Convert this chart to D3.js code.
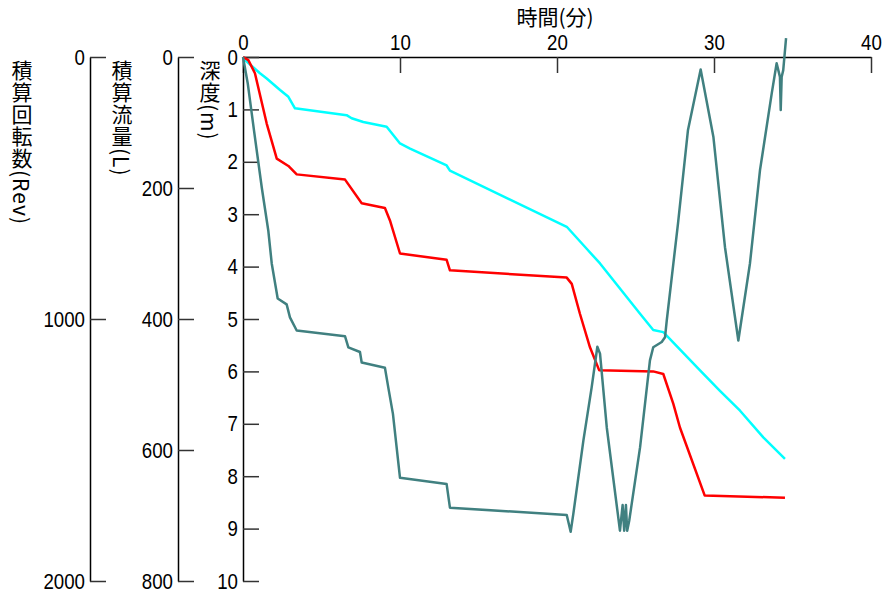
<!DOCTYPE html>
<html>
<head>
<meta charset="utf-8">
<script src="https://cdn.jsdelivr.net/npm/d3@7"></script>
<style>
  html, body { margin: 0; padding: 0; background: #fff; }
  svg { display: block; }
  .jp { font-family: "Noto Sans CJK JP", "Noto Sans", sans-serif; font-size: 21px; fill: #000; }
</style>
</head>
<body>
<script>
// ---- Data ----
// Depth (m) vs time (min) — teal
const depthTime = [0, 0.3, 0.7, 1.2, 1.61, 1.83, 2.21, 2.78, 2.99, 3.42, 6.5, 6.71, 7.45, 7.56, 9.04, 9.25, 9.55, 10.0, 12.97, 13.18, 20.62, 20.87, 21.04, 21.68, 22.21, 22.57, 22.74, 23.17, 24.01, 24.18, 24.28, 24.39, 24.47, 24.6, 25.29, 25.92, 26.13, 26.67, 26.88, 26.99, 27.71, 28.34, 29.15, 29.96, 30.7, 31.55, 32.29, 32.93, 33.68, 33.99, 34.2, 34.25, 34.31, 34.41, 34.59];
const depthValues = [0, 0.5, 1.4, 2.5, 3.31, 3.94, 4.61, 4.72, 4.97, 5.22, 5.33, 5.54, 5.63, 5.83, 5.93, 6.3, 6.81, 8.03, 8.15, 8.6, 8.74, 9.06, 8.72, 7.32, 6.3, 5.53, 5.66, 7.07, 9.04, 8.55, 9.04, 8.55, 9.04, 8.85, 7.45, 5.79, 5.54, 5.44, 5.35, 5.03, 3.17, 1.40, 0.24, 1.52, 3.63, 5.41, 3.94, 2.16, 0.69, 0.12, 0.38, 1.01, 0.38, 0.25, -0.36];

// Cumulative flow (L) vs time (min) — red
const flowTime = [0, 0.34, 0.76, 1.51, 2.15, 2.89, 3.42, 6.5, 7.56, 9.04, 9.36, 10.0, 12.97, 13.18, 20.62, 20.94, 21.46, 22.1, 22.69, 26.13, 26.77, 27.41, 27.83, 29.41, 34.52];
const flowValues = [0, 4.8, 24.8, 101.6, 155.2, 166.4, 179.2, 187.2, 223.2, 230.4, 249.6, 300, 309.6, 325.6, 336.8, 346.4, 392, 443.2, 478.4, 480, 484, 529.6, 565.6, 669.6, 672.8];

// Cumulative revolutions (Rev) vs time (min) — cyan
const revTime = [0, 0.13, 1.08, 1.51, 2.36, 2.89, 3.31, 6.6, 6.92, 7.66, 9.15, 10.0, 10.64, 12.97, 13.18, 20.62, 21.89, 22.74, 25.29, 26.13, 26.77, 29.11, 30.38, 31.66, 33.14, 34.52];
const revValues = [0, 12, 62, 82, 126, 152, 196, 222, 234, 248, 266, 330, 350, 414, 434, 648, 732, 788, 980, 1042, 1050, 1196, 1274, 1350, 1452, 1534];

// Tick values
const timeTicks = [0, 10, 20, 30, 40];
const depthTicks = [0, 1, 2, 3, 4, 5, 6, 7, 8, 9, 10];
const flowTicks = [0, 200, 400, 600, 800];
const revTicks = [0, 1000, 2000];

// Labels
const timeLabel = "時間(分)";
const depthLabel = "深度(m)";
const flowLabel = "積算流量(L)";
const revLabel = "積算回転数(Rev)";

// ---- Drawing ----
const W = 888, H = 594;
const svg = d3.select("body").append("svg").attr("width", W).attr("height", H);

const x = d3.scaleLinear().domain([0, 40]).range([243, 871]);
const yDepth = d3.scaleLinear().domain([0, 10]).range([57, 581]);
const yFlow = d3.scaleLinear().domain([0, 800]).range([57, 581]);
const yRev = d3.scaleLinear().domain([0, 2000]).range([57, 581]);

function styleAxis(g) {
  g.select(".domain").attr("stroke", "#000").attr("stroke-width", 1.5);
  g.selectAll(".tick line").attr("stroke", "#333").attr("stroke-width", 1.5);
  g.selectAll(".tick text")
    .attr("fill", "#000")
    .style("font-family", '"Liberation Sans", Arial, sans-serif')
    .style("font-size", "22px")
    .each(function() {
      const t = d3.select(this);
      const n = t.text().length;
      t.attr("textLength", n * 10.4).attr("lengthAdjust", "spacingAndGlyphs");
    });
}

// Top time axis
svg.append("g").attr("transform", `translate(0,57)`)
  .call(d3.axisTop(x).tickValues(timeTicks).tickFormat(d3.format("d"))
    .tickSizeInner(-16).tickSizeOuter(0).tickPadding(7))
  .call(styleAxis);

// Depth axis
svg.append("g").attr("transform", `translate(243,0)`)
  .call(d3.axisLeft(yDepth).tickValues(depthTicks).tickFormat(d3.format("d"))
    .tickSizeInner(-16).tickSizeOuter(0).tickPadding(5))
  .call(styleAxis);

// Flow axis
svg.append("g").attr("transform", `translate(178,0)`)
  .call(d3.axisLeft(yFlow).tickValues(flowTicks).tickFormat(d3.format("d"))
    .tickSizeInner(-16).tickSizeOuter(0).tickPadding(5))
  .call(styleAxis);

// Rev axis
svg.append("g").attr("transform", `translate(90,0)`)
  .call(d3.axisLeft(yRev).tickValues(revTicks).tickFormat(d3.format("d"))
    .tickSizeInner(-16).tickSizeOuter(0).tickPadding(5))
  .call(styleAxis);

// Labels
svg.append("text").attr("class", "jp").attr("x", 555).attr("y", 25)
  .attr("text-anchor", "middle").text(timeLabel);

function vlabel(cx, top, txt) {
  svg.append("text").attr("class", "jp")
    .attr("x", cx).attr("y", top)
    .style("writing-mode", "vertical-rl")
    .style("letter-spacing", "1px")
    .text(txt);
}
vlabel(22, 60, revLabel);
vlabel(122, 60, flowLabel);
vlabel(210, 60, depthLabel);

// Lines
const lineRev = d3.line().x((d, i) => x(revTime[i])).y(d => yRev(d));
const lineFlow = d3.line().x((d, i) => x(flowTime[i])).y(d => yFlow(d));
const lineDepth = d3.line().x((d, i) => x(depthTime[i])).y(d => yDepth(d));

svg.append("path").datum(revValues).attr("d", lineRev)
  .attr("fill", "none").attr("stroke", "#00ffff").attr("stroke-width", 2.5).attr("stroke-linejoin", "round");
svg.append("path").datum(flowValues).attr("d", lineFlow)
  .attr("fill", "none").attr("stroke", "#ff0000").attr("stroke-width", 2.5).attr("stroke-linejoin", "round");
svg.append("path").datum(depthValues).attr("d", lineDepth)
  .attr("fill", "none").attr("stroke", "#408080").attr("stroke-width", 2.5).attr("stroke-linejoin", "round");
</script>
</body>
</html>
